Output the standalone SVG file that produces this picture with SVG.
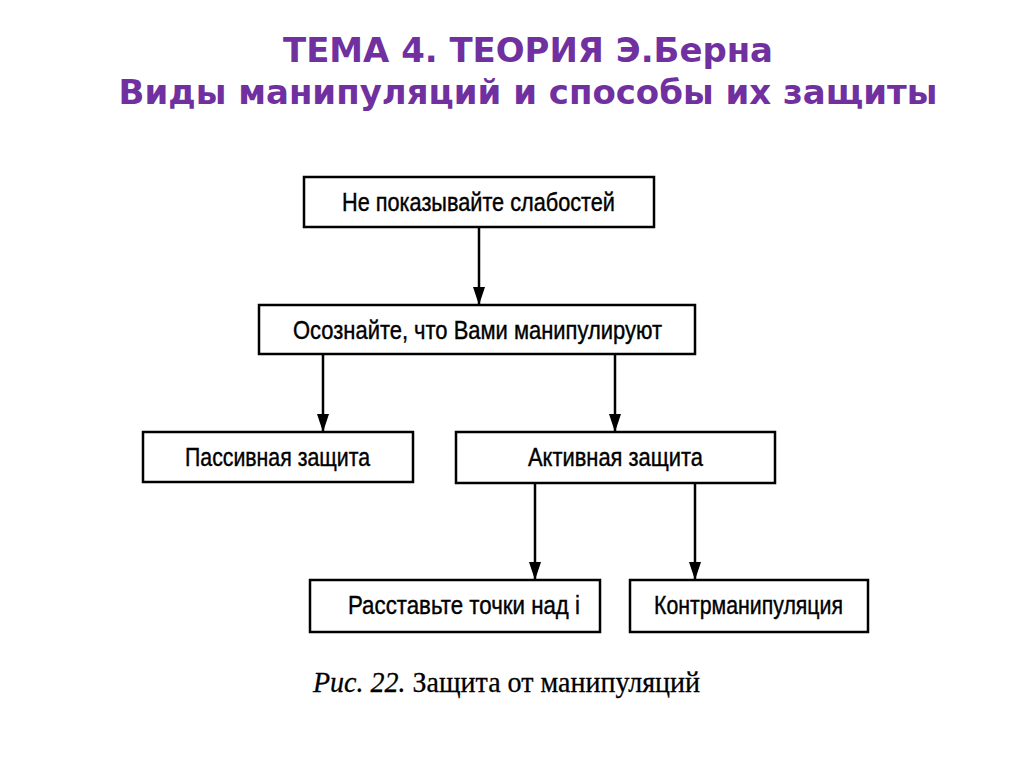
<svg xmlns="http://www.w3.org/2000/svg" width="1024" height="768" viewBox="0 0 1024 768">
<style>
.title{font-family:"DejaVu Sans",sans-serif;font-weight:bold;font-size:33px;fill:#7030A0;text-anchor:middle}
.box{fill:#fff;stroke:#000;stroke-width:2.5}
.lbl{font-family:"Liberation Sans",Arial,sans-serif;font-size:25px;fill:#000;stroke:#000;stroke-width:0.4}
.con{stroke:#000;stroke-width:2.5;fill:none;marker-end:url(#ah)}
.cap{font-family:"Liberation Serif","Times New Roman",serif;font-size:30px;fill:#000;stroke:#000;stroke-width:0.3}
</style>
<defs>
<marker id="ah" markerUnits="userSpaceOnUse" markerWidth="18" markerHeight="12" refX="18" refY="6" orient="auto" viewBox="0 0 18 12">
<path d="M0,0 L18,6 L0,12 Z" fill="#000"/>
</marker>
</defs>
<rect width="1024" height="768" fill="#fff"/>
<text class="title" x="528" y="62" textLength="490" lengthAdjust="spacingAndGlyphs">ТЕМА 4. ТЕОРИЯ Э.Берна</text>
<text class="title" x="528" y="104" textLength="819" lengthAdjust="spacingAndGlyphs">Виды манипуляций и способы их защиты</text>
<g id="connectors">
<path class="con" d="M479,227 V305"/>
<path class="con" d="M323,354 V432"/>
<path class="con" d="M615,354 V432"/>
<path class="con" d="M535,483 V580"/>
<path class="con" d="M695,483 V580"/>
</g>
<g id="n1"><rect class="box" x="304" y="177" width="350" height="50"/><text class="lbl" x="342" y="211" textLength="273" lengthAdjust="spacingAndGlyphs">Не показывайте слабостей</text></g>
<g id="n2"><rect class="box" x="259" y="305" width="436" height="49"/><text class="lbl" x="293" y="339" textLength="369" lengthAdjust="spacingAndGlyphs">Осознайте, что Вами манипулируют</text></g>
<g id="n3"><rect class="box" x="143" y="432" width="270" height="50"/><text class="lbl" x="185" y="466" textLength="185" lengthAdjust="spacingAndGlyphs">Пассивная защита</text></g>
<g id="n4"><rect class="box" x="456" y="432" width="319" height="51"/><text class="lbl" x="528" y="466" textLength="175" lengthAdjust="spacingAndGlyphs">Активная защита</text></g>
<g id="n5"><rect class="box" x="310" y="580" width="290" height="52"/><text class="lbl" x="348" y="614" textLength="232" lengthAdjust="spacingAndGlyphs">Расставьте точки над і</text></g>
<g id="n6"><rect class="box" x="630" y="580" width="238" height="52"/><text class="lbl" x="654" y="614" textLength="189" lengthAdjust="spacingAndGlyphs">Контрманипуляция</text></g>
<text class="cap" x="313" y="692" textLength="387" lengthAdjust="spacingAndGlyphs"><tspan font-style="italic">Рис. 22.</tspan> Защита от манипуляций</text>
</svg>
